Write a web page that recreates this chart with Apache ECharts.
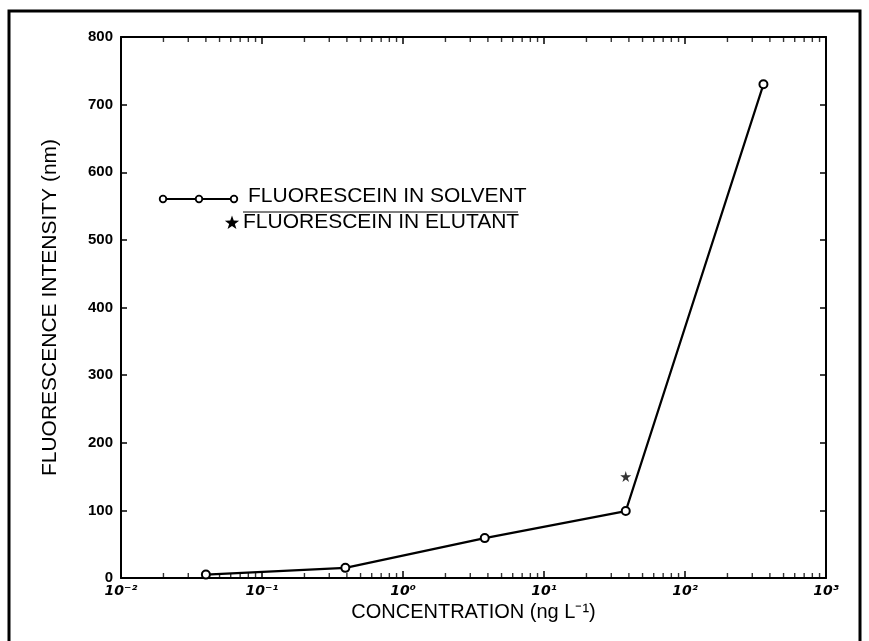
<!DOCTYPE html>
<html><head><meta charset="utf-8">
<script src="https://cdn.jsdelivr.net/npm/echarts@6/dist/echarts.min.js"></script>
<style>html,body{margin:0;padding:0;background:#fff}#c{width:869px;height:641px}</style>
</head><body><div id="c"></div>
<script>
// Data
const concentration = [0.04, 0.39, 3.8, 38, 360];
const solventIntensity = [5, 15, 59, 99, 730];
const elutantConc = [38];
const elutantIntensity = [150];
const xTickLabels = {'-2':'10⁻²','-1':'10⁻¹','0':'10⁰','1':'10¹','2':'10²','3':'10³'};
const decades = [0.01, 0.1, 1, 10, 100];
const minorMultiples = [2,3,4,5,6,7,8,9];
const yMin = 0, yMax = 800, yStep = 100;

const minorBottom = [], minorTop = [];
decades.forEach(d => minorMultiples.forEach(m => { minorBottom.push([d*m, yMin]); minorTop.push([d*m, yMax]); }));

const FONT = 'Liberation Sans, Arial, sans-serif';
const starPath = 'path://M50,0 L61,35 L98,35 L68,57 L79,91 L50,70 L21,91 L32,57 L2,35 L39,35 Z';

function starPoints(cx, cy, R, r) {
  const pts = [];
  for (let i = 0; i < 10; i++) {
    const a = -Math.PI / 2 + i * Math.PI / 5;
    const rr = i % 2 === 0 ? R : r;
    pts.push([cx + rr * Math.cos(a), cy + rr * Math.sin(a)]);
  }
  return pts;
}

const chart = echarts.init(document.getElementById('c'));
chart.setOption({
  backgroundColor: '#fff',
  animation: false,
  grid: {left: 121, right: 43, top: 37, bottom: 63},
  xAxis: [{
    type: 'log', logBase: 10, min: 0.01, max: 1000,
    axisLine: {onZero: false, lineStyle: {color: '#000', width: 2}},
    axisTick: {inside: true, length: 7, lineStyle: {color: '#000', width: 1.5}},
    splitLine: {show: false},
    axisLabel: {
      color: '#000', fontFamily: 'DejaVu Sans', fontWeight: 'bold', fontStyle: 'italic', fontSize: 14, margin: 6,
      formatter: v => xTickLabels[String(Math.round(Math.log10(v)))] || ''
    },
    name: 'CONCENTRATION (ng L⁻¹)', nameLocation: 'middle', nameGap: 23,
    nameTextStyle: {color: '#000', fontFamily: FONT, fontSize: 20}
  }, {
    type: 'log', logBase: 10, min: 0.01, max: 1000, position: 'top',
    axisLine: {onZero: false, lineStyle: {color: '#000', width: 2}},
    axisTick: {inside: true, length: 7, lineStyle: {color: '#000', width: 1.5}},
    axisLabel: {show: false}, splitLine: {show: false}
  }],
  yAxis: [{
    type: 'value', min: yMin, max: yMax, interval: yStep,
    axisLine: {show: true, onZero: false, lineStyle: {color: '#000', width: 2}},
    axisTick: {show: true, inside: true, length: 6, lineStyle: {color: '#000', width: 1.5}},
    splitLine: {show: false},
    axisLabel: {color: '#000', fontFamily: FONT, fontWeight: 'bold', fontSize: 15, margin: 8},
    name: 'FLUORESCENCE INTENSITY (nm)', nameLocation: 'middle', nameGap: 60, nameRotate: 90,
    nameTextStyle: {color: '#000', fontFamily: FONT, fontSize: 21}
  }, {
    type: 'value', min: yMin, max: yMax, interval: yStep, position: 'right',
    axisLine: {show: true, onZero: false, lineStyle: {color: '#000', width: 2}},
    axisTick: {show: true, inside: true, length: 6, lineStyle: {color: '#000', width: 1.5}},
    splitLine: {show: false}, axisLabel: {show: false}
  }],
  series: [{
    type: 'line', xAxisIndex: 0, yAxisIndex: 0,
    data: concentration.map((c, i) => [c, solventIntensity[i]]),
    symbol: 'emptyCircle', symbolSize: 8, showAllSymbol: true,
    lineStyle: {color: '#000', width: 2.2}, itemStyle: {color: '#000', borderColor: '#000', borderWidth: 2},
    z: 5
  }, {
    type: 'scatter', xAxisIndex: 0, yAxisIndex: 0,
    data: elutantConc.map((c, i) => [c, elutantIntensity[i]]),
    symbol: starPath, symbolSize: 11, itemStyle: {color: '#000'}
  }, {
    type: 'scatter', xAxisIndex: 0, yAxisIndex: 0, data: minorBottom, silent: true,
    symbol: 'rect', symbolSize: [1.4, 5], symbolOffset: [0, -2.5], itemStyle: {color: '#000'}
  }, {
    type: 'scatter', xAxisIndex: 0, yAxisIndex: 0, data: minorTop, silent: true,
    symbol: 'rect', symbolSize: [1.4, 5], symbolOffset: [0, 2.5], itemStyle: {color: '#000'}
  }],
  graphic: [
    {type: 'rect', shape: {x: 9, y: 11, width: 851, height: 640}, style: {fill: 'none', stroke: '#000', lineWidth: 3}, silent: true},
    {type: 'polyline', shape: {points: [[163, 199], [234, 199]]}, style: {stroke: '#000', lineWidth: 2}},
    {type: 'circle', shape: {cx: 163, cy: 199, r: 3.3}, style: {fill: '#fff', stroke: '#000', lineWidth: 1.8}},
    {type: 'circle', shape: {cx: 199, cy: 199, r: 3.3}, style: {fill: '#fff', stroke: '#000', lineWidth: 1.8}},
    {type: 'circle', shape: {cx: 234, cy: 199, r: 3.3}, style: {fill: '#fff', stroke: '#000', lineWidth: 1.8}},
    {type: 'text', x: 248, y: 186, style: {text: 'FLUORESCEIN IN SOLVENT', font: '21px ' + FONT, fill: '#000'}},
    {type: 'polyline', shape: {points: [[243, 212], [518, 212]]}, style: {stroke: '#000', lineWidth: 1}},
    {type: 'polygon', shape: {points: starPoints(232, 223, 7.5, 3)}, style: {fill: '#000'}},
    {type: 'text', x: 243, y: 212, style: {text: 'FLUORESCEIN IN ELUTANT', font: '21px ' + FONT, fill: '#000'}}
  ]
});
</script></body></html>
